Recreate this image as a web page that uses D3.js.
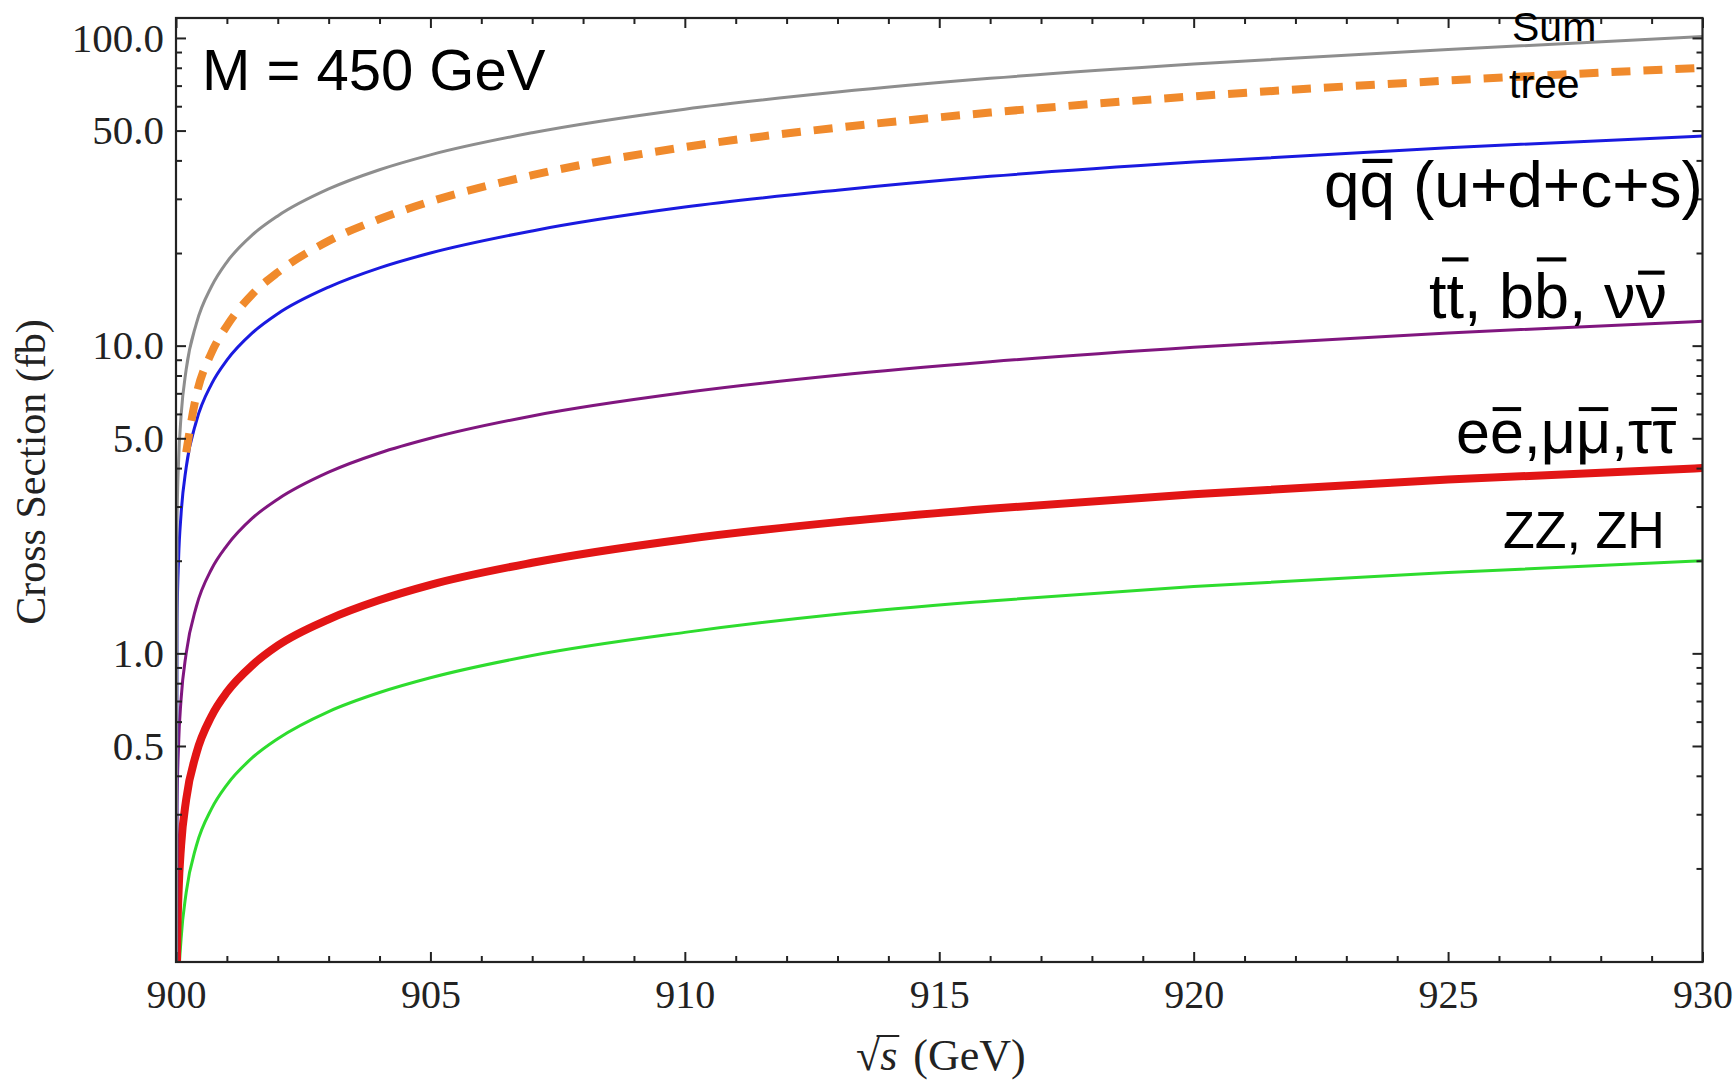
<!DOCTYPE html>
<html><head><meta charset="utf-8">
<script src="https://cdn.jsdelivr.net/npm/d3@7"></script>
<style>html,body{margin:0;padding:0;background:#fff}</style>
</head><body>
<svg id="chart" width="1733" height="1085"></svg>
<script>
// ---------- data ----------
const energies = [900, 900.02, 900.05, 900.1, 900.2, 900.4, 900.7, 901, 901.5, 902, 903, 904, 905, 907, 910, 913, 916, 920, 925, 930];
const sumVals   = [0.01, 2.65, 4.18, 5.92, 8.37, 11.8, 15.6, 18.7, 22.9, 26.4, 32.3, 37.3, 41.7, 49.2, 58.7, 66.7, 73.9, 82.3, 91.7, 101];
const qqVals    = [0.01, 1.27, 2.01, 2.84, 4.02, 5.68, 7.51, 8.97, 11.0, 12.7, 15.5, 17.9, 20.0, 23.6, 28.2, 32.0, 35.5, 39.5, 44.0, 48.0];
const heavyVals = [0.01, 0.318, 0.502, 0.71, 1.0, 1.42, 1.88, 2.24, 2.75, 3.17, 3.88, 4.48, 5.0, 5.91, 7.04, 8.01, 8.86, 9.88, 11.0, 12.0];
const lepVals   = [0.01, 0.106, 0.167, 0.237, 0.335, 0.473, 0.626, 0.748, 0.915, 1.06, 1.29, 1.49, 1.67, 1.97, 2.35, 2.67, 2.95, 3.29, 3.67, 4.0];
const bosonVals = [0.01, 0.053, 0.084, 0.118, 0.167, 0.237, 0.313, 0.374, 0.458, 0.528, 0.647, 0.746, 0.833, 0.984, 1.17, 1.34, 1.48, 1.65, 1.83, 2.0];
const treeEnergies = [900.2, 900.4, 900.7, 901, 901.5, 902, 903, 904, 905, 907, 910, 913, 916, 920, 925, 930];
const treeVals     = [4.5, 6.9, 9.5, 11.6, 14.7, 17.3, 21.9, 25.8, 29.4, 35.8, 44.2, 51.1, 57.2, 64.6, 72.7, 80];

const xMajorTicks = [900, 905, 910, 915, 920, 925, 930];
const xMinorTicks = [901,902,903,904,906,907,908,909,911,912,913,914,916,917,918,919,921,922,923,924,926,927,928,929];
const yMajorTicks = [0.5, 1, 5, 10, 50, 100];
const yMinorTicks = [0.2,0.3,0.4,0.6,0.7,0.8,0.9,2,3,4,6,7,8,9,20,30,40,60,70,80,90];

const xTitle = "(GeV)";
const yTitle = "Cross Section (fb)";
const massLabel = "M = 450 GeV";
// curve labels: text and indices of characters carrying an over-bar
const curveLabels = [
  {text: "Sum", bars: []},
  {text: "tree", bars: []},
  {text: "qq (u+d+c+s)", bars: [1]},
  {text: "tt, bb, νν", bars: [1, 5, 9]},
  {text: "ee,μμ,ττ", bars: [1, 4, 7]},
  {text: "ZZ, ZH", bars: []}
];

// ---------- layout ----------
const W = 1733, H = 1085;
const L = 176, R = 1702.5, T = 18, B = 962;
const svg = d3.select("#chart");
svg.append("rect").attr("width", W).attr("height", H).attr("fill", "#fff");

const x = d3.scaleLinear().domain([900, 930]).range([L, R]);
const y = d3.scaleLog().domain([0.0993, 116.1]).range([B, T]);

const axisColor = "#222";
const serif = "'Liberation Serif','Times New Roman',serif";
const sans = "'Liberation Sans',Arial,sans-serif";

svg.append("defs").append("clipPath").attr("id", "clip")
  .append("rect").attr("x", L).attr("y", T).attr("width", R - L).attr("height", B - T);

// ---------- curves ----------
const series = [
  {xs: energies, vs: bosonVals, color: "#2edc2e", w: 3},
  {xs: energies, vs: lepVals,   color: "#e21515", w: 8},
  {xs: energies, vs: heavyVals, color: "#80167f", w: 3},
  {xs: energies, vs: qqVals,    color: "#1a1ae0", w: 3},
  {xs: treeEnergies, vs: treeVals, color: "#f08a2c", w: 8, dash: "19,13"},
  {xs: energies, vs: sumVals,   color: "#8e8e8e", w: 3}
];
const line = d3.line().x(d => x(d[0])).y(d => y(d[1])).curve(d3.curveMonotoneX);
const gCurves = svg.append("g").attr("clip-path", "url(#clip)");
series.forEach(s => {
  gCurves.append("path")
    .datum(s.xs.map((e, i) => [e, s.vs[i]]))
    .attr("d", line)
    .attr("fill", "none")
    .attr("stroke", s.color)
    .attr("stroke-width", s.w)
    .attr("stroke-dasharray", s.dash || null)
    .attr("stroke-linejoin", "round");
});

// ---------- axes ----------
function styleAxis(g) {
  g.select(".domain").remove();
  g.selectAll(".tick line").attr("stroke", axisColor).attr("stroke-width", 2);
}
// bottom
svg.append("g").attr("transform", `translate(0,${B})`)
  .call(d3.axisBottom(x).tickValues(xMajorTicks).tickSizeInner(-10).tickSizeOuter(0).tickPadding(18).tickFormat(d3.format("d")))
  .call(styleAxis)
  .call(g => g.selectAll("text").attr("font-family", serif).attr("font-size", 40).attr("fill", "#222"));
svg.append("g").attr("transform", `translate(0,${B})`)
  .call(d3.axisBottom(x).tickValues(xMinorTicks).tickSizeInner(-6).tickSizeOuter(0).tickFormat(""))
  .call(styleAxis);
// top
svg.append("g").attr("transform", `translate(0,${T})`)
  .call(d3.axisTop(x).tickValues(xMajorTicks).tickSizeInner(-10).tickSizeOuter(0).tickFormat(""))
  .call(styleAxis);
svg.append("g").attr("transform", `translate(0,${T})`)
  .call(d3.axisTop(x).tickValues(xMinorTicks).tickSizeInner(-6).tickSizeOuter(0).tickFormat(""))
  .call(styleAxis);
// left
svg.append("g").attr("transform", `translate(${L},0)`)
  .call(d3.axisLeft(y).tickValues(yMajorTicks).tickSizeInner(-10).tickSizeOuter(0).tickPadding(12).tickFormat(d3.format(".1f")))
  .call(styleAxis)
  .call(g => g.selectAll("text").attr("font-family", serif).attr("font-size", 41).attr("fill", "#222"));
svg.append("g").attr("transform", `translate(${L},0)`)
  .call(d3.axisLeft(y).tickValues(yMinorTicks).tickSizeInner(-6).tickSizeOuter(0).tickFormat(""))
  .call(styleAxis);
// right
svg.append("g").attr("transform", `translate(${R},0)`)
  .call(d3.axisRight(y).tickValues(yMajorTicks).tickSizeInner(-10).tickSizeOuter(0).tickFormat(""))
  .call(styleAxis);
svg.append("g").attr("transform", `translate(${R},0)`)
  .call(d3.axisRight(y).tickValues(yMinorTicks).tickSizeInner(-6).tickSizeOuter(0).tickFormat(""))
  .call(styleAxis);

// frame
svg.append("rect").attr("x", L).attr("y", T).attr("width", R - L).attr("height", B - T)
  .attr("fill", "none").attr("stroke", axisColor).attr("stroke-width", 2.2);

// ---------- axis titles ----------
svg.append("text")
  .attr("transform", `translate(45,472) rotate(-90)`)
  .attr("text-anchor", "middle")
  .attr("font-family", serif).attr("font-size", 42).attr("fill", "#222")
  .text(yTitle);

const xt = svg.append("text").attr("x", 856).attr("y", 1070)
  .attr("font-family", serif).attr("font-size", 44).attr("fill", "#222");
xt.append("tspan").text("√");
xt.append("tspan").attr("font-style", "italic").text("s");
xt.append("tspan").attr("dx", 16).text(xTitle);
{
  const n = xt.node();
  const ext = n.getExtentOfChar(1);
  const ext0 = n.getExtentOfChar(0);
  svg.append("line")
    .attr("x1", ext0.x + ext0.width * 0.85).attr("x2", ext.x + ext.width + 2)
    .attr("y1", ext0.y + 5).attr("y2", ext0.y + 5)
    .attr("stroke", "#222").attr("stroke-width", 2);
}

// ---------- in-plot labels ----------
svg.append("text").attr("x", 202).attr("y", 90)
  .attr("font-family", sans).attr("font-size", 58).attr("fill", "#000")
  .text(massLabel);

const labelPos = [
  {x: 1512, y: 41,  size: 41},
  {x: 1509, y: 98,  size: 41},
  {x: 1324, y: 207, size: 64},
  {x: 1429, y: 318, size: 63},
  {x: 1456, y: 453, size: 61},
  {x: 1503, y: 548, size: 52}
];
const tallChars = new Set(["t", "b"]);
curveLabels.forEach((lab, k) => {
  const p = labelPos[k];
  const t = svg.append("text").attr("x", p.x).attr("y", p.y)
    .attr("font-family", sans).attr("font-size", p.size).attr("fill", "#000")
    .text(lab.text);
  const node = t.node();
  lab.bars.forEach(i => {
    const ext = node.getExtentOfChar(i);
    const ch = lab.text[i];
    const h = tallChars.has(ch) ? 0.93 : 0.72;
    const yy = p.y - h * p.size;
    const cx = ext.x + ext.width / 2;
    const hw = Math.max(ext.width * 0.42, 0.21 * p.size);
    svg.append("line")
      .attr("x1", cx - hw).attr("x2", cx + hw)
      .attr("y1", yy).attr("y2", yy)
      .attr("stroke", "#000").attr("stroke-width", p.size * 0.065);
  });
});
</script>
</body></html>
